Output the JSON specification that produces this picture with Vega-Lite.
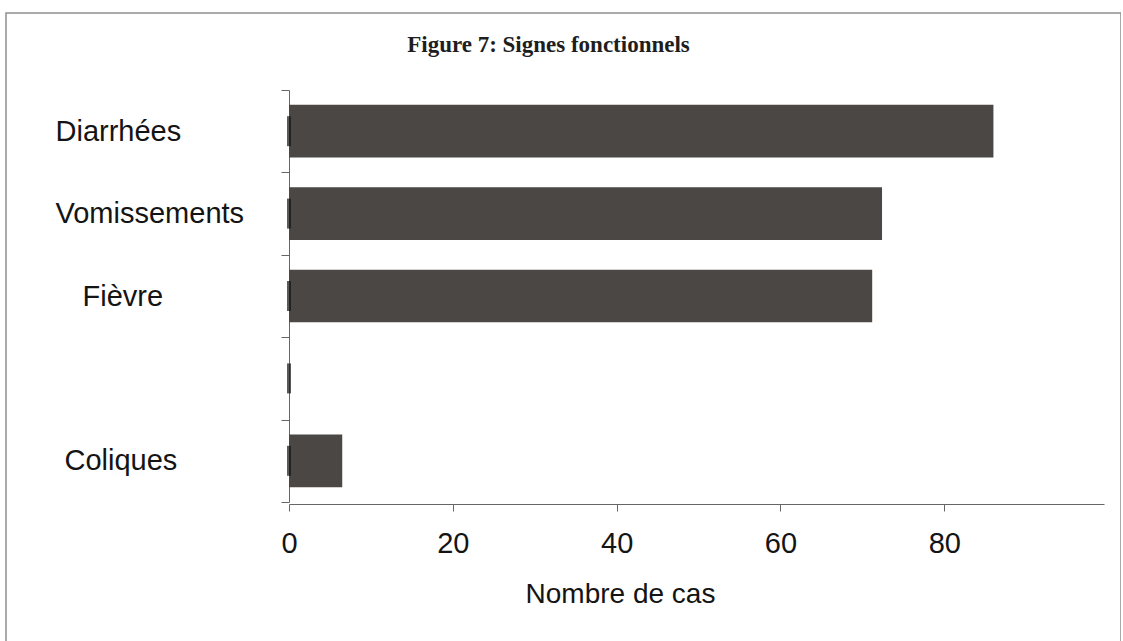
{
  "$schema": "https://vega.github.io/schema/vega-lite/v6.json",
  "autosize": "none",
  "width": 1115,
  "height": 640,
  "padding": {"left": 6, "top": 13, "right": 0, "bottom": 0},
  "background": "#ffffff",
  "title": {
    "text": "Figure 7: Signes fonctionnels",
    "font": "Liberation Serif",
    "fontSize": 23,
    "fontWeight": "bold",
    "color": "#1e1e1e",
    "anchor": "middle",
    "baseline": "alphabetic",
    "offset": -76,
    "dx": -15
  },
  "config": {
    "view": {"stroke": "#8f8f8f", "strokeWidth": 1.5},
    "font": "Liberation Sans"
  },
  "data": {
    "values": [
      {"signe": "Diarrhées", "cas": 86},
      {"signe": "Vomissements", "cas": 72.4},
      {"signe": "Fièvre", "cas": 71.2},
      {"signe": " ", "cas": 0},
      {"signe": "Coliques", "cas": 6.5}
    ]
  },
  "encoding": {
    "y": {
      "field": "signe",
      "type": "nominal",
      "sort": null,
      "scale": {
        "domain": ["Diarrhées", "Vomissements", "Fièvre", " ", "Coliques"],
        "range": [77, 489],
        "paddingInner": 0,
        "paddingOuter": 0
      },
      "axis": {
        "title": null,
        "offset": -283,
        "tickBand": "extent",
        "tickSize": 8,
        "tickColor": "#666666",
        "domainColor": "#666666",
        "labelAlign": "left",
        "labelBaseline": "middle",
        "labelPadding": {
          "condition": [
            {"test": "datum.label == 'Fièvre'", "value": 199},
            {"test": "datum.label == 'Coliques'", "value": 217}
          ],
          "value": 226
        },
        "labelLimit": 400,
        "labelFontSize": 29,
        "labelColor": "#141414"
      }
    }
  },
  "layer": [
    {
      "mark": {"type": "bar", "color": "#4b4745", "height": {"band": 0.64}},
      "encoding": {
        "x": {
          "field": "cas",
          "type": "quantitative",
          "scale": {"domain": [0, 99.5], "range": [283, 1098], "nice": false, "zero": true},
          "axis": {
            "title": "Nombre de cas",
            "values": [0, 20, 40, 60, 80],
            "offset": -149,
            "grid": false,
            "labelFlush": false,
            "tickSize": 7,
            "tickColor": "#666666",
            "domainColor": "#666666",
            "labelFontSize": 29,
            "labelPadding": 18,
            "labelColor": "#141414",
            "titleFontSize": 28,
            "titleFontWeight": "normal",
            "titleColor": "#141414",
            "titleX": 614,
            "titleY": 98,
            "titleAlign": "center",
            "titleBaseline": "alphabetic"
          }
        }
      }
    },
    {
      "mark": {"type": "tick", "orient": "vertical", "thickness": 4, "size": 30, "color": "#141414"},
      "encoding": {
        "x": {"datum": 0, "type": "quantitative"}
      }
    }
  ]
}
